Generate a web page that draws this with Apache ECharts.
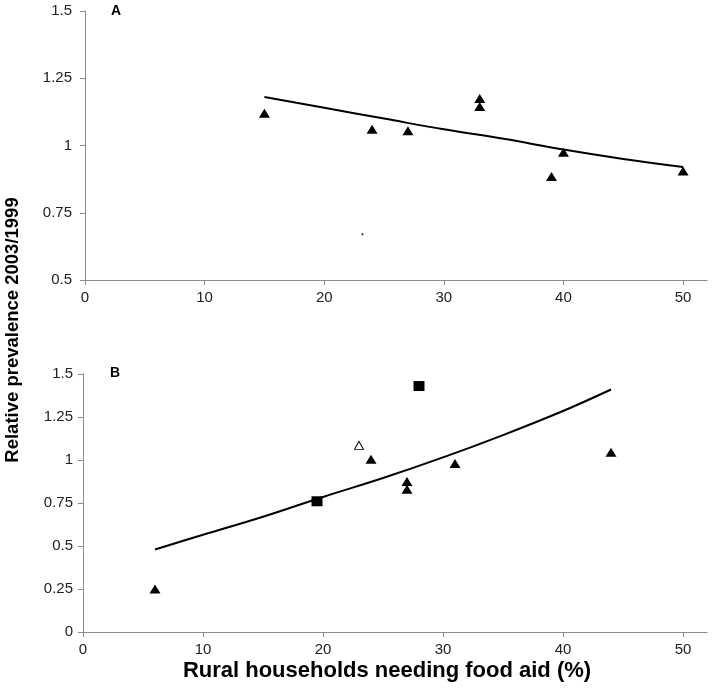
<!DOCTYPE html>
<html>
<head>
<meta charset="utf-8">
<script src="https://cdn.jsdelivr.net/npm/echarts@6/dist/echarts.min.js"></script>
<style>html,body{margin:0;padding:0;background:#fff}#c{width:713px;height:689px}</style>
</head>
<body>
<div id="c"></div>
<script>
const xTicks = [0, 10, 20, 30, 40, 50];
const yTicksA = [0.5, 0.75, 1, 1.25, 1.5];
const yTicksB = [0, 0.25, 0.5, 0.75, 1, 1.25, 1.5];
const aPoints = [[15, 1.12], [24, 1.06], [27, 1.055], [33, 1.175], [33, 1.145], [39, 0.885], [40, 0.975], [50, 0.905]];
const aDot = [[23.2, 0.67]];
const aTrend = [[15, 1.18], [20, 1.14], [25, 1.10], [30, 1.06], [35, 1.025], [40, 0.985], [45, 0.95], [50, 0.92]];
const bTriangles = [[6, 0.25], [24, 1.005], [27, 0.875], [27, 0.83], [31, 0.98], [44, 1.045]];
const bSquares = [[19.5, 0.76], [28, 1.43]];
const bOpen = [[23, 1.085]];
const bTrend = [[6, 0.48], [10, 0.565], [15, 0.67], [20, 0.785], [25, 0.895], [30, 1.015], [35, 1.145], [40, 1.285], [44, 1.41]];

const FONT = '"Liberation Sans", Arial, sans-serif';
const axisGray = '#8c8c8c';

function xAxis(gi) {
  return {
    type: 'value', gridIndex: gi, min: 0, max: 52,
    axisLine: { lineStyle: { color: axisGray, width: 1 } },
    axisTick: { customValues: xTicks, length: 5, lineStyle: { color: axisGray } },
    axisLabel: { customValues: xTicks, color: '#222', fontSize: 15, fontFamily: FONT, margin: 10 },
    splitLine: { show: false }
  };
}
function yAxis(gi, mn, margin) {
  return {
    type: 'value', gridIndex: gi, min: mn, max: 1.5, interval: 0.25,
    axisLine: { show: true, lineStyle: { color: axisGray, width: 1 } },
    axisTick: { show: true, length: 5, lineStyle: { color: axisGray } },
    axisLabel: { color: '#222', fontSize: 15, fontFamily: FONT, margin: margin },
    splitLine: { show: false }
  };
}

const chart = echarts.init(document.getElementById('c'), null, { renderer: 'canvas' });
chart.setOption({
  animation: false,
  backgroundColor: '#fff',
  grid: [
    { left: 85, top: 11, width: 622, height: 269 },
    { left: 83, top: 374, width: 624, height: 258 }
  ],
  xAxis: [xAxis(0), xAxis(1)],
  yAxis: [yAxis(0, 0.5, 13), yAxis(1, 0, 10)],
  graphic: [
    { type: 'text', left: 111, top: 4, style: { text: 'A', font: 'bold 14px ' + FONT, fill: '#000' } },
    { type: 'text', left: 110, top: 366, style: { text: 'B', font: 'bold 14px ' + FONT, fill: '#000' } },
    { type: 'text', x: 13, y: 330, rotation: Math.PI / 2,
      style: { text: 'Relative prevalence 2003/1999', font: 'bold 18.5px ' + FONT, fill: '#000', align: 'center', verticalAlign: 'middle' } },
    { type: 'text', x: 387, y: 671,
      style: { text: 'Rural households needing food aid (%)', font: 'bold 22px ' + FONT, fill: '#000', align: 'center', verticalAlign: 'middle' } }
  ],
  series: [
    { type: 'line', xAxisIndex: 0, yAxisIndex: 0, data: aTrend, smooth: 0.4, symbol: 'none',
      lineStyle: { color: '#000', width: 2 }, z: 2 },
    { type: 'scatter', xAxisIndex: 0, yAxisIndex: 0, data: aPoints, symbol: 'triangle', symbolSize: [11, 9],
      itemStyle: { color: '#000', opacity: 1 }, z: 3 },
    { type: 'scatter', xAxisIndex: 0, yAxisIndex: 0, data: aDot, symbol: 'circle', symbolSize: 2,
      itemStyle: { color: '#222', opacity: 1 }, z: 3 },
    { type: 'line', xAxisIndex: 1, yAxisIndex: 1, data: bTrend, smooth: 0.4, symbol: 'none',
      lineStyle: { color: '#000', width: 2 }, z: 2 },
    { type: 'scatter', xAxisIndex: 1, yAxisIndex: 1, data: bTriangles, symbol: 'triangle', symbolSize: [11, 9],
      itemStyle: { color: '#000', opacity: 1 }, z: 3 },
    { type: 'scatter', xAxisIndex: 1, yAxisIndex: 1, data: bSquares, symbol: 'rect', symbolSize: [11, 10],
      itemStyle: { color: '#000', opacity: 1 }, z: 3 },
    { type: 'scatter', xAxisIndex: 1, yAxisIndex: 1, data: bOpen, symbol: 'triangle', symbolSize: [9, 8],
      itemStyle: { color: '#fff', borderColor: '#000', borderWidth: 1, opacity: 1 }, z: 3 }
  ]
});
</script>
</body>
</html>
